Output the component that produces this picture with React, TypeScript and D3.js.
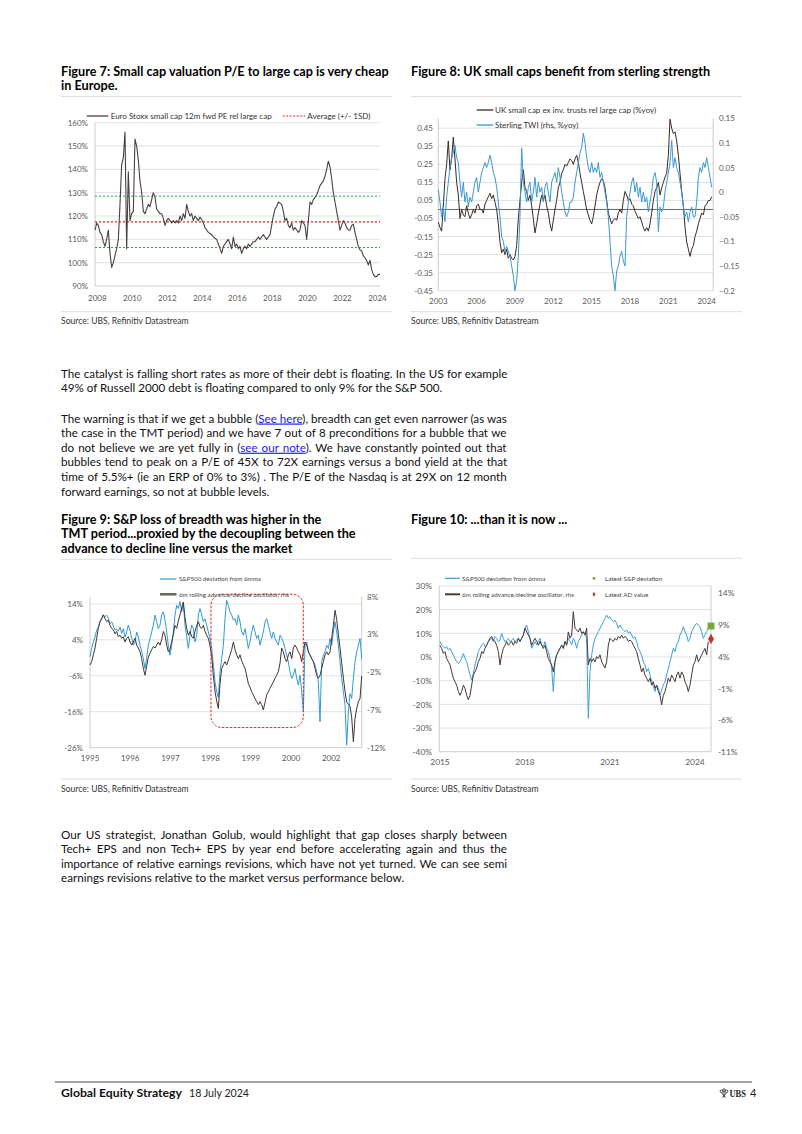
import React from 'react';
import * as d3 from 'd3';

const FONT = 'Lato, "Open Sans", "DejaVu Sans", sans-serif';

// ---------------- DATA ----------------
// Figure 7: Euro Stoxx small cap 12m fwd PE rel large cap (%), evenly spaced observations
const fig7Start = 2007.867;
const fig7Step = 0.0952;
const fig7Values = [
  114, 117, 116, 113, 112, 109, 107, 110, 114, 104,
  98, 100, 103, 106, 110, 125, 142, 145, 156, 106,
  139, 118, 121, 122, 153, 150, 144, 135, 130, 122,
  121, 123, 125, 124, 127, 130, 128, 123, 122, 121,
  121, 119, 116, 118, 119, 118, 117, 118, 117, 118,
  117, 120, 118, 121, 119, 125, 122, 120, 121, 118,
  120, 119, 118, 119.5, 118.5, 117, 115, 114, 113, 112.5,
  112, 111, 110.5, 110, 108, 106, 104, 107, 108, 109,
  110, 108, 106, 111, 107, 108, 106, 107, 104, 106,
  107, 106, 108, 107, 108, 109, 109, 110, 111, 110,
  111, 112, 111, 110, 111, 112, 116, 120, 123, 124,
  126, 125.5, 125, 122, 118, 119, 116, 115, 117, 114,
  115, 114, 113, 114, 118, 117, 116, 110, 118, 126,
  125, 127, 128, 129, 131, 133, 134, 135, 137, 140,
  143.5, 141, 136, 130, 126, 122, 118, 114, 116, 118,
  117, 115, 114, 114, 116, 116.5, 113, 110, 107, 105.5,
  105, 103, 102, 101, 99, 101, 97, 95, 94, 94,
  95, 95,
];
const fig7Average = 117.5;
const fig7BandHigh = 128.5;
const fig7BandLow = 106.5;
const fig7YTicks = [90, 100, 110, 120, 130, 140, 150, 160];
const fig7XTicks = [2008, 2010, 2012, 2014, 2016, 2018, 2020, 2022, 2024];

// Figure 8
const fig8Start = 2003.0;
const fig8Step = 0.13045;
const fig8SmallCap = [
  -0.07, -0.10, -0.12, 0.02, 0.17, 0.25, 0.38, 0.22, 0.28, 0.40,
  0.28, 0.15, 0.08, -0.05, 0.0, -0.03, -0.04, 0.02, -0.02, -0.05,
  -0.03, 0.0, -0.02, 0.02, 0.03, 0.0, 0.0, -0.02, 0.03, 0.05,
  0.07, 0.09, 0.06, 0.08, 0.04, 0.0, -0.08, -0.18, -0.24, -0.22,
  -0.25, -0.22, -0.27, -0.25, -0.27, -0.28, -0.26, -0.2, -0.05, 0.05,
  0.15, 0.22, 0.12, 0.10, 0.05, 0.08, 0.02, -0.05, -0.13, -0.08,
  -0.02, 0.03, 0.08, 0.05, 0.08, 0.02, -0.02, -0.08, -0.12, -0.06,
  0.0, 0.05, 0.12, 0.15, 0.2, 0.22, 0.25, 0.24, 0.26, 0.28,
  0.27, 0.25, 0.28, 0.30, 0.26, 0.20, 0.15, 0.10, 0.05, 0.0,
  -0.03, -0.06, -0.08, -0.04, 0.02, 0.08, 0.12, 0.15, 0.17, 0.16,
  0.12, 0.05, -0.02, -0.05, -0.08, -0.06, -0.05, -0.06, -0.02, 0.0,
  -0.02, 0.05, 0.10, 0.08, 0.05, 0.06, 0.03, 0.02, -0.01, -0.03,
  -0.05, -0.04, -0.07, -0.10, -0.12, -0.10, -0.12, -0.08, -0.02, 0.05,
  0.10, 0.12, 0.15, 0.08, 0.12, 0.15, 0.18, 0.20, 0.30, 0.50,
  0.45, 0.42, 0.43, 0.38, 0.30, 0.20, 0.10, 0.02, -0.10, -0.18,
  -0.22, -0.26, -0.22, -0.20, -0.15, -0.12, -0.08, -0.05, -0.02, -0.03,
  0.02, 0.03, 0.05, 0.05, 0.07,
];
const fig8Sterling = [
  0.005, -0.02, -0.05, -0.03, -0.06, -0.01, 0.02, 0.05, 0.07, 0.08,
  0.095, 0.07, 0.06, 0.02, -0.01, 0.02, -0.02, 0.0, -0.03, -0.01,
  -0.02, 0.0, 0.02, 0.03, 0.0, 0.02, 0.04, 0.05, 0.06, 0.05,
  0.06, 0.075, 0.06, 0.04, 0.03, 0.01, -0.02, -0.05, -0.09, -0.10,
  -0.12, -0.11, -0.12, -0.13, -0.15, -0.17, -0.20, -0.18, -0.13, -0.05,
  0.09, 0.02, 0.0, -0.02, 0.01, 0.02, -0.02, 0.0, 0.03, -0.01,
  0.02, 0.0, 0.01, -0.02, 0.01, 0.02, 0.0, -0.02, 0.02, 0.03,
  0.04, 0.02, 0.05, 0.03, 0.0, -0.02, -0.04, -0.05, -0.04, -0.02,
  -0.02, -0.01, 0.02, 0.04, 0.06, 0.08, 0.09, 0.12, 0.10, 0.07,
  0.05, 0.04, 0.06, 0.04, 0.05, 0.04, 0.06, 0.03, 0.04, 0.02,
  0.0, -0.02, -0.05, -0.10, -0.15, -0.17, -0.20, -0.16, -0.15, -0.13,
  -0.12, -0.14, -0.15, -0.05, -0.02, 0.0, 0.02, 0.03, 0.0, 0.02,
  -0.01, 0.01, -0.02, 0.0, -0.02, -0.01, -0.04, -0.02, 0.0, 0.03,
  0.04, 0.02, -0.08, -0.03, -0.04, -0.03, 0.0, 0.02, 0.04, 0.06,
  0.105, 0.05, 0.07, 0.05, 0.04, 0.02, 0.0, -0.03, -0.05, -0.04,
  -0.06, -0.04, -0.03, -0.05, -0.05, -0.02, 0.03, 0.05, 0.04, 0.06,
  0.05, 0.07, 0.05, 0.03, 0.01,
];
const fig8LeftTicks = [-0.45, -0.35, -0.25, -0.15, -0.05, 0.05, 0.15, 0.25, 0.35, 0.45];
const fig8RightTicks = [-0.2, -0.15, -0.1, -0.05, 0, 0.05, 0.1, 0.15];
const fig8XTicks = [2003, 2006, 2009, 2012, 2015, 2018, 2021, 2024];

// Figure 9
const fig9Start = 1995.0;
const fig9Step = 0.04892;
const fig9Deviation = [
  -0.7, 1.6, 3.4, 4.8, 6.7, 7.6, 9.0, 9.9, 10.9, 10.4,
  10.9, 9.9, 8.5, 9.0, 7.9, 6.7, 7.0, 6.4, 7.6, 5.8,
  7.1, 4.8, 6.2, 8.1, 6.7, 4.4, 2.5, 3.4, 6.2, 4.8,
  2.5, 0.7, -1.2, -4.0, -1.0, 2.5, 4.4, 6.2, 8.1, 10.9,
  9.0, 7.1, 8.1, 10.9, 11.8, 9.5, 6.2, 2.5, -0.3, 2.5,
  6.2, 10.9, 13.6, 12.7, 14.6, 11.8, 14.1, 8.0, 5.0, 1.6,
  5.3, 8.1, 7.1, 3.4, 5.3, 10.9, 12.7, 10.9, 9.0, 9.9,
  8.1, 6.2, 4.4, 1.6, -3.0, -7.7, -10.4, -12.0, -4.9, -1.2,
  2.5, 9.9, 15.0, 13.6, 11.8, 10.9, 9.5, 9.9, 8.1, 10.9,
  9.0, 6.2, 5.3, 7.1, 4.4, 1.6, 3.4, 6.2, 8.1, 6.2,
  4.4, 5.3, 2.5, 4.4, 6.2, 9.0, 9.9, 8.1, 6.2, 4.4,
  6.2, 4.4, 3.4, 2.5, 5.3, 4.4, 3.4, 1.6, -0.3, -2.1,
  -4.9, -6.7, -5.8, -4.0, -6.7, -8.6, -5.8, -10.4, -16.0, 2.5,
  3.4, 0.7, -0.3, -1.2, -2.1, -3.0, -4.9, -7.7, -18.8, -2.1,
  -0.3, 0.7, 2.5, 1.6, 4.4, 2.5, 6.2, 9.0, 6.2, 2.5,
  -2.1, -6.7, -10.4, -14.1, -25.3, -16.0, -11.0, -12.3, -6.7, -2.1,
  0.7, 2.5, 4.4, -1.2,
];
const fig9AdOscillator = [
  -1.05, -0.6, 0.3, 1.2, 2.5, 3.8, 4.7, 5.1, 5.6, 5.1,
  4.7, 4.9, 4.2, 3.8, 3.6, 3.1, 3.4, 2.7, 2.9, 2.5,
  2.7, 2.0, 2.5, 2.7, 2.0, 1.6, 2.0, 2.5, 1.6, 1.2,
  0.7, -0.2, -1.5, -2.4, -1.2, 0.0, 0.5, 1.0, 1.4, 1.2,
  1.6, 2.0, 1.6, 2.3, 3.4, 2.9, 1.6, 0.7, 1.0, 2.0,
  3.0, 4.2, 3.8, 4.8, 5.6, 6.5, 7.3, 5.2, 3.8, 2.9,
  3.4, 2.7, 2.5, 3.4, 4.2, 4.7, 4.0, 3.8, 4.2, 3.4,
  2.9, 2.5, 1.5, 0.2, -2.5, -4.5, -5.8, -6.8, -3.5, -1.5,
  -1.0, -0.6, -1.05, -0.4, 0.3, 1.0, 2.0, 1.0, 0.3, -0.2,
  0.3, -0.5, -1.0, -1.5, -2.5, -3.5, -4.0, -4.6, -5.0, -5.5,
  -5.9, -6.3, -5.9, -6.3, -7.0, -6.0, -5.0, -4.6, -4.1, -3.7,
  -3.3, -2.8, -2.4, -1.9, -0.8, 1.2, 0.7, -0.2, -0.6, 0.3,
  0.7, -0.2, 1.2, 1.6, 1.2, 0.7, 0.3, -0.6, 0.7, 2.0,
  1.6, 0.7, 0.3, -0.2, -0.6, -1.5, -2.4, -2.8, -2.4, -1.5,
  -0.6, 0.3, 0.7, 0.3, 0.7, 2.5, 4.2, 6.2, 5.0, 3.0,
  1.2, -0.8, -2.8, -4.5, -6.0, -6.2, -6.5, -8.0, -11.2, -8.1,
  -6.8, -5.9, -5.5, -2.5,
];
const fig9LeftTicks = [-26, -16, -6, 4, 14];
const fig9RightTicks = [-12, -7, -2, 3, 8];
const fig9XTickDates = [1995, 1996.18, 1997.36, 1998.54, 1999.72, 2000.9, 2002.08];
const fig9XTickLabels = ['1995', '1996', '1997', '1998', '1999', '2000', '2002'];
const fig9BoxDates = [1998.55, 2001.26];
const fig9BoxRange = [-20.4, 16.7];

// Figure 10
const fig10Start = 2015.0;
const fig10Step = 0.05882;
const fig10Deviation = [
  6.5, 5.1, 4.4, 3.7, 4.4, 3.0, 3.7, 2.3, 0.8, -0.6,
  -2.0, -2.7, -2.0, -0.6, 1.5, -0.6, -2.0, -4.8, -7.6, -9.7,
  -6.9, -3.4, -0.6, 2.3, 3.7, 5.1, 5.8, 4.4, 5.1, 6.5,
  7.2, 7.9, 6.5, 8.6, 7.9, 6.5, 7.2, 10.0, 7.9, 6.5,
  7.2, 7.9, 6.5, 7.2, 7.9, 6.5, 7.2, 7.9, 6.5, 7.9,
  9.3, 12.1, 13.5, 10.7, 7.9, 3.7, 5.1, 6.5, 5.1, 6.5,
  7.9, 5.1, 4.4, 6.5, 3.7, 2.3, -0.6, -4.8, -14.6, -2.0,
  0.8, 2.3, 3.7, 5.1, 3.7, 6.5, 5.1, 7.9, 6.5, 5.1,
  7.9, 6.5, 3.7, 6.5, 7.9, 9.3, 10.7, 10.0, 7.9, -25.9,
  -6.2, 0.8, 5.1, 7.9, 9.3, 10.7, 12.1, 13.5, 14.9, 16.3,
  17.7, 16.3, 17.0, 15.6, 14.9, 15.6, 14.2, 12.1, 13.5, 12.1,
  11.4, 10.7, 11.4, 10.0, 10.7, 9.3, 7.9, 8.6, 6.5, 3.7,
  2.3, 0.8, -2.0, -3.4, -6.2, -4.8, -7.6, -10.4, -12.5, -14.6,
  -11.8, -13.2, -16.1, -14.0, -11.8, -10.4, -7.6, -4.8, -2.0, 0.8,
  3.7, 2.3, 5.1, 6.5, 9.3, 10.7, 12.8, 10.7, 9.3, 6.5,
  7.9, 10.7, 12.1, 13.5, 14.2, 13.5, 12.8, 10.7, 7.9, 9.3,
  10.7, 12.1,
];
const fig10AdOscillator = [
  5.8, 5.3, 4.5, 4.8, 3.7, 3.2, 2.7, 1.6, 0.6, 0.05,
  -0.5, -1.5, -2.1, -1.5, -0.5, -1.0, -2.1, -2.8, -2.1, -0.5,
  1.1, 1.6, 2.2, 3.2, 3.7, 4.8, 4.5, 5.3, 5.8, 6.4,
  6.9, 7.2, 6.6, 6.4, 5.8, 4.8, 2.7, 4.3, 5.3, 5.8,
  6.4, 5.8, 6.1, 6.4, 5.8, 6.4, 6.1, 6.9, 6.4, 6.9,
  7.4, 8.5, 7.9, 7.4, 6.9, 5.8, 6.4, 6.9, 6.4, 5.8,
  6.4, 5.8, 5.3, 5.8, 4.8, 3.7, 3.2, 2.7, 1.6, 3.2,
  4.3, 4.8, 5.3, 5.8, 5.3, 6.4, 5.8, 7.9, 6.9, 7.4,
  11.1, 8.5, 8.2, 7.9, 8.5, 7.7, 7.9, 7.4, 8.5, 2.7,
  3.7, 3.2, 3.7, 3.2, 4.0, 3.7, 4.3, 3.2, 2.7, 2.2,
  3.2, 5.8, 6.9, 6.6, 6.4, 6.9, 6.6, 7.2, 6.9, 7.4,
  6.9, 7.2, 6.9, 6.4, 6.6, 6.4, 5.8, 5.3, 4.8, 3.7,
  2.7, 1.6, 2.2, 1.1, 0.6, 0.05, 0.6, -0.5, 0.05, -1.0,
  -0.5, -1.5, -2.1, -3.6, -2.1, -1.5, -0.5, 0.6, 0.05, 1.1,
  0.6, 0.05, 1.1, 1.6, 0.6, 1.6, 1.1, 0.05, -0.5, -1.5,
  -0.5, 1.1, 2.7, 3.2, 4.3, 3.2, 3.7, 4.3, 4.8, 5.3,
  4.3, 6.4,
];
const fig10LatestDate = 2024.565;
const fig10LatestSP = 13.1;
const fig10LatestAD = 6.8;
const fig10LeftTicks = [-40, -30, -20, -10, 0, 10, 20, 30];
const fig10RightTicks = [-11, -6, -1, 4, 9, 14];
const fig10XTicks = [2015, 2018, 2021, 2024];

// Text content
const para1 = [
  'The catalyst is falling short rates as more of their debt is floating. In the US for example',
  '49% of Russell 2000 debt is floating compared to only 9% for the S&P 500.',
];
const para2 = [
  'The warning is that if we get a bubble (See here), breadth can get even narrower (as was',
  'the case in the TMT period) and we have 7 out of 8 preconditions for a bubble that we',
  'do not believe we are yet fully in (see our note). We have constantly pointed out that',
  'bubbles tend to peak on a P/E of 45X to 72X earnings versus a bond yield at the that',
  'time of 5.5%+ (ie an ERP of 0% to 3%) . The P/E of the Nasdaq is at 29X on 12 month',
  'forward earnings, so not at bubble levels.',
];
const para2Links = ['See here', 'see our note'];
const para3 = [
  'Our US strategist, Jonathan Golub, would highlight that gap closes sharply between',
  'Tech+ EPS and non Tech+ EPS by year end before accelerating again and thus the',
  'importance of relative earnings revisions, which have not yet turned. We can see semi',
  'earnings revisions relative to the market versus performance below.',
];

// ---------------- HELPERS ----------------
let measureCtx: any = null;
function textWidth(text: string, size: number, weight: number = 400): number {
  if (!measureCtx) measureCtx = document.createElement('canvas').getContext('2d');
  measureCtx.font = `${weight} ${size}px Lato`;
  return measureCtx.measureText(text).width;
}

function seriesPath(values: number[], start: number, step: number, x: any, y: any) {
  return d3.line<number>()
    .x((_, i) => x(start + i * step))
    .y((v) => y(v))(values) || '';
}

const GRID = '#d9d9d9';
const AXIS = '#bfbfbf';
const TICK = '#595959';
const SEP = '#dcdcdc';

function Title({ x, y, lines, fs }: any) {
  return (
    <g>
      {lines.map((l: string, i: number) => (
        <text key={i} x={x} y={y + i * 14.4} fontSize={fs} fontWeight={700} fill="#000" fontFamily={FONT}>{l}</text>
      ))}
    </g>
  );
}

function Source({ x, y }: any) {
  return (
    <text x={x} y={y} fontSize={8.6} fill="#333" fontFamily={FONT}>Source: UBS, Refinitiv Datastream</text>
  );
}

// ---------------- FIGURES ----------------
function Fig7({ fs }: any) {
  const x = d3.scaleLinear().domain([fig7Start, fig7Start + (fig7Values.length - 1) * fig7Step]).range([95, 380]);
  const y = d3.scaleLinear().domain([90, 160]).range([286, 122.7]);
  const [x0, x1] = x.range();
  return (
    <g fontFamily={FONT}>
      <Title x={61} y={75.5} fs={fs} lines={['Figure 7: Small cap valuation P/E to large cap is very cheap', 'in Europe.']} />
      <line x1={61} x2={392} y1={96.7} y2={96.7} stroke={SEP} />
      {fig7YTicks.map((t) => (
        <g key={t}>
          <line x1={x0} x2={x1} y1={y(t)} y2={y(t)} stroke={t === 90 ? AXIS : GRID} strokeWidth={0.8} />
          <text x={88} y={y(t) + 3} textAnchor="end" fontSize={8} fill={TICK}>{t}%</text>
        </g>
      ))}
      <line x1={x0} x2={x0} y1={y(160)} y2={y(90)} stroke={AXIS} strokeWidth={0.8} />
      {fig7XTicks.map((t) => (
        <text key={t} x={x(t)} y={300.5} textAnchor="middle" fontSize={8} fill={TICK}>{t}</text>
      ))}
      <line x1={x0} x2={x1} y1={y(fig7BandHigh)} y2={y(fig7BandHigh)} stroke="#1fae45" strokeDasharray="2,2" strokeWidth={1} />
      <line x1={x0} x2={x1} y1={y(fig7BandLow)} y2={y(fig7BandLow)} stroke="#1fae45" strokeDasharray="2,2" strokeWidth={1} />
      <line x1={x0} x2={x1} y1={y(fig7Average)} y2={y(fig7Average)} stroke="#e0261b" strokeDasharray="2,2" strokeWidth={1.1} />
      <path d={seriesPath(fig7Values, fig7Start, fig7Step, x, y)} fill="none" stroke="#4a403d" strokeWidth={1.1} strokeLinejoin="round" />
      {/* legend */}
      <line x1={86.7} x2={108.3} y1={116} y2={116} stroke="#4a403d" strokeWidth={1.3} />
      <text x={110.7} y={118.8} fontSize={8} fill="#333">Euro Stoxx small cap 12m fwd PE rel large cap</text>
      <line x1={282.7} x2={305} y1={116} y2={116} stroke="#e0261b" strokeDasharray="2,1.5" strokeWidth={1.1} />
      <text x={307.3} y={118.8} fontSize={8} fill="#333">Average (+/- 1SD)</text>
      <line x1={61} x2={392} y1={311.7} y2={311.7} stroke={SEP} />
      <Source x={61} y={323.5} />
    </g>
  );
}

function Fig8({ fs }: any) {
  const x = d3.scaleLinear().domain([fig8Start, fig8Start + (fig8SmallCap.length - 1) * fig8Step]).range([438.3, 711.7]);
  const yL = d3.scaleLinear().domain([-0.45, 0.505]).range([290.7, 118.3]);
  const yR = d3.scaleLinear().domain([-0.2, 0.15]).range([290.7, 118.3]);
  const [x0, x1] = x.range();
  const fmtR = (v: number) => (Math.abs(v) < 1e-9 ? '0' : d3.format('')(+v.toFixed(2)));
  return (
    <g fontFamily={FONT}>
      <Title x={411} y={75.5} fs={fs} lines={['Figure 8: UK small caps benefit from sterling strength']} />
      <line x1={411} x2={742} y1={96.7} y2={96.7} stroke={SEP} />
      {fig8LeftTicks.map((t) => (
        <g key={t}>
          <line x1={x0} x2={x1 + 1.5} y1={yL(t)} y2={yL(t)} stroke={GRID} strokeWidth={0.8} />
          <text x={433} y={yL(t) + 3} textAnchor="end" fontSize={8} fill={TICK}>{t.toFixed(2)}</text>
        </g>
      ))}
      {fig8RightTicks.map((t) => (
        <text key={t} x={719} y={yR(t) + 3} fontSize={8} fill={TICK}>{fmtR(t)}</text>
      ))}
      <line x1={x0} x2={x0} y1={118.3} y2={290.7} stroke={AXIS} strokeWidth={0.8} />
      <line x1={x1 + 1.5} x2={x1 + 1.5} y1={118.3} y2={290.7} stroke={AXIS} strokeWidth={0.8} />
      {fig8XTicks.map((t) => (
        <text key={t} x={x(t)} y={304} textAnchor="middle" fontSize={8} fill={TICK}>{t}</text>
      ))}
      <line x1={x0} x2={x1 + 1.5} y1={yL(0)} y2={yL(0)} stroke="#555" strokeWidth={0.9} />
      <path d={seriesPath(fig8SmallCap, fig8Start, fig8Step, x, yL)} fill="none" stroke="#3b2a23" strokeWidth={1} strokeLinejoin="round" />
      <path d={seriesPath(fig8Sterling, fig8Start, fig8Step, x, yR)} fill="none" stroke="#3a98d6" strokeWidth={1} strokeLinejoin="round" />
      {/* legend */}
      <line x1={476.7} x2={493.3} y1={110} y2={110} stroke="#3b2a23" strokeWidth={1.3} />
      <text x={495} y={112.8} fontSize={8} fill="#333">UK small cap ex inv. trusts rel large cap (%yoy)</text>
      <line x1={476.7} x2={493.3} y1={125} y2={125} stroke="#3a98d6" strokeWidth={1.3} />
      <text x={495} y={127.8} fontSize={8} fill="#333">Sterling TWI (rhs, %yoy)</text>
      <line x1={411} x2={742} y1={311.7} y2={311.7} stroke={SEP} />
      <Source x={411} y={323.5} />
    </g>
  );
}

function Fig9({ fs }: any) {
  const x = d3.scaleLinear().domain([fig9Start, fig9Start + (fig9Deviation.length - 1) * fig9Step]).range([90, 361.7]);
  const yL = d3.scaleLinear().domain([-26, 16]).range([747.7, 596.7]);
  const yR = d3.scaleLinear().domain([-12, 8]).range([747.7, 596.7]);
  const [x0, x1] = x.range();
  return (
    <g fontFamily={FONT}>
      <Title x={61} y={524} fs={fs} lines={['Figure 9: S&P loss of breadth was higher in the', 'TMT period...proxied by the decoupling between the', 'advance to decline line versus the market']} />
      <line x1={61} x2={392} y1={559.3} y2={559.3} stroke={SEP} />
      {fig9LeftTicks.map((t) => (
        <g key={t}>
          <line x1={x0} x2={x1} y1={yL(t)} y2={yL(t)} stroke={t === -26 ? AXIS : GRID} strokeWidth={0.8} />
          <text x={83} y={yL(t) + 3} textAnchor="end" fontSize={8} fill={TICK}>{t}%</text>
        </g>
      ))}
      {fig9RightTicks.map((t) => (
        <text key={t} x={367} y={yR(t) + 3} fontSize={8} fill={TICK}>{t}%</text>
      ))}
      <line x1={x0} x2={x0} y1={596.7} y2={747.7} stroke={AXIS} strokeWidth={0.8} />
      <line x1={x1} x2={x1} y1={596.7} y2={747.7} stroke={AXIS} strokeWidth={0.8} />
      {fig9XTickDates.map((t, i) => (
        <text key={t} x={x(t)} y={761.3} textAnchor="middle" fontSize={8} fill={TICK}>{fig9XTickLabels[i]}</text>
      ))}
      <path d={seriesPath(fig9Deviation, fig9Start, fig9Step, x, yL)} fill="none" stroke="#2f9ad8" strokeWidth={1} strokeLinejoin="round" />
      <path d={seriesPath(fig9AdOscillator, fig9Start, fig9Step, x, yR)} fill="none" stroke="#45342d" strokeWidth={1} strokeLinejoin="round" />
      <rect x={x(fig9BoxDates[0])} y={yL(fig9BoxRange[1])} width={x(fig9BoxDates[1]) - x(fig9BoxDates[0])} height={yL(fig9BoxRange[0]) - yL(fig9BoxRange[1])} rx={11} ry={11} fill="none" stroke="#e0262b" strokeWidth={1} strokeDasharray="2.5,1.5" />
      {/* legend */}
      <line x1={160} x2={176.5} y1={579} y2={579} stroke="#2f9ad8" strokeWidth={1.2} />
      <text x={179} y={581.2} fontSize={6.2} fill="#444">S&amp;P500 deviation from 6mma</text>
      <line x1={160} x2={176.5} y1={594.3} y2={594.3} stroke="#6b5d57" strokeWidth={2.4} />
      <text x={179} y={596.5} fontSize={6.2} fill="#444">6m rolling advance/decline oscillator, rhs</text>
      <line x1={61} x2={392} y1={779} y2={779} stroke={SEP} />
      <Source x={61} y={792} />
    </g>
  );
}

function Fig10({ fs }: any) {
  const x = d3.scaleLinear().domain([2014.975, fig10LatestDate]).range([439.3, 711]);
  const yL = d3.scaleLinear().domain([-40, 30]).range([751.7, 586]);
  const yR = d3.scaleLinear().domain([-11, 15.15]).range([751.7, 586]);
  const [x0, x1] = x.range();
  const sq = d3.symbol().type(d3.symbolSquare);
  const dm = d3.symbol().type(d3.symbolDiamond);
  return (
    <g fontFamily={FONT}>
      <Title x={411} y={524} fs={fs} lines={['Figure 10: ...than it is now ...']} />
      <line x1={411} x2={742} y1={558.3} y2={558.3} stroke={SEP} />
      {fig10LeftTicks.map((t) => (
        <g key={t}>
          <line x1={x0} x2={x1} y1={yL(t)} y2={yL(t)} stroke={t === -40 ? AXIS : GRID} strokeWidth={0.8} />
          <text x={432} y={yL(t) + 3.2} textAnchor="end" fontSize={8.4} fill={TICK}>{t}%</text>
        </g>
      ))}
      {fig10RightTicks.map((t) => (
        <text key={t} x={718} y={yR(t) + 3.2} fontSize={8.4} fill={TICK}>{t}%</text>
      ))}
      <line x1={x0} x2={x0} y1={586} y2={751.7} stroke={AXIS} strokeWidth={0.8} />
      <line x1={x1} x2={x1} y1={586} y2={751.7} stroke={AXIS} strokeWidth={0.8} />
      {fig10XTicks.map((t) => (
        <text key={t} x={x(t)} y={765} textAnchor="middle" fontSize={8.4} fill={TICK}>{t}</text>
      ))}
      <path d={seriesPath(fig10Deviation, fig10Start, fig10Step, x, yL)} fill="none" stroke="#3d9fdc" strokeWidth={1} strokeLinejoin="round" />
      <path d={seriesPath(fig10AdOscillator, fig10Start, fig10Step, x, yR)} fill="none" stroke="#4a3832" strokeWidth={1} strokeLinejoin="round" />
      <path d={sq.size(48)() || ''} transform={`translate(${x(fig10LatestDate)},${yL(fig10LatestSP)})`} fill="#77a63a" />
      <path d={dm.size(30)() || ''} transform={`translate(${x(fig10LatestDate)},${yR(fig10LatestAD)})`} fill="#c0342b" />
      {/* legend */}
      <line x1={445} x2={460} y1={578.3} y2={578.3} stroke="#3d9fdc" strokeWidth={1.2} />
      <text x={462} y={580.5} fontSize={6.3} fill="#444">S&amp;P500 deviation from 6mma</text>
      <path d={sq.size(7)() || ''} transform="translate(594,578.3)" fill="#77a63a" />
      <text x={605} y={580.5} fontSize={6.3} fill="#444">Latest S&amp;P deviation</text>
      <line x1={445} x2={460} y1={594.3} y2={594.3} stroke="#4a3832" strokeWidth={2} />
      <text x={462} y={596.5} fontSize={6.3} fill="#444">6m rolling advance/decline oscillator, rhs</text>
      <path d={dm.size(7)() || ''} transform="translate(594,594.3)" fill="#c0342b" />
      <text x={605} y={596.5} fontSize={6.3} fill="#444">Latest AD value</text>
      <line x1={411} x2={742} y1={779} y2={779} stroke={SEP} />
      <Source x={411} y={792} />
    </g>
  );
}

// ---------------- BODY TEXT ----------------
const BODY_X = 61;
const BODY_W = 447;
const LH = 14.6;

function Paragraph({ lines, y0, fs, links = [] }: any) {
  return (
    <g>
      {lines.map((line: string, i: number) => {
        const last = i === lines.length - 1;
        const nat = textWidth(line, fs);
        const spaces = (line.match(/ /g) || []).length;
        const ws = last || spaces === 0 ? 0 : (BODY_W - nat) / spaces;
        let segs: { t: string; link: boolean }[] = [{ t: line, link: false }];
        links.forEach((lk: string) => {
          const out: { t: string; link: boolean }[] = [];
          segs.forEach((s) => {
            if (s.link || s.t.indexOf(lk) < 0) { out.push(s); return; }
            const idx = s.t.indexOf(lk);
            out.push({ t: s.t.slice(0, idx), link: false });
            out.push({ t: lk, link: true });
            out.push({ t: s.t.slice(idx + lk.length), link: false });
          });
          segs = out;
        });
        return (
          <text key={i} x={BODY_X} y={y0 + i * LH} fontSize={fs} fill="#111" fontFamily={FONT} wordSpacing={ws} style={{ whiteSpace: 'pre' }}>
            {segs.map((s, j) => s.link
              ? <tspan key={j} fill="#1a1aee" style={{ textDecoration: 'underline' }}>{s.t}</tspan>
              : <tspan key={j}>{s.t}</tspan>)}
          </text>
        );
      })}
    </g>
  );
}

function Footer() {
  return (
    <g fontFamily={FONT}>
      <line x1={55} x2={752} y1={1082} y2={1082} stroke="#444" strokeWidth={1} />
      <text x={61} y={1097} fontSize={11} fontWeight={700} fill="#111" textLength={121} lengthAdjust="spacingAndGlyphs">Global Equity Strategy</text>
      <text x={189} y={1097} fontSize={11} fill="#222" textLength={60} lengthAdjust="spacingAndGlyphs">18 July 2024</text>
      <g transform="translate(724,1093.5)" stroke="#333" strokeWidth={0.9} fill="none">
        <circle cx={-2.6} cy={-2.2} r={1.3} />
        <circle cx={2.6} cy={-2.2} r={1.3} />
        <circle cx={0} cy={-3.4} r={1.3} />
        <line x1={-2.6} y1={-1} x2={1.5} y2={4} />
        <line x1={2.6} y1={-1} x2={-1.5} y2={4} />
        <line x1={0} y1={-2} x2={0} y2={4} />
      </g>
      <text x={729.5} y={1097} fontSize={10.5} fontWeight={700} fill="#222" fontFamily='"Liberation Serif", "DejaVu Serif", serif' textLength={16.5} lengthAdjust="spacingAndGlyphs">UBS</text>
      <text x={750} y={1097} fontSize={11} fill="#222">4</text>
    </g>
  );
}

export default function App() {
  const justified = [para1[0], ...para2.slice(0, -1), ...para3.slice(0, -1)];
  const bodyFs = 10 * d3.min(justified, (l) => BODY_W / textWidth(l, 10))!;
  const titleFs = 10 * 329 / textWidth('Figure 7: Small cap valuation P/E to large cap is very cheap', 10, 700);
  return (
    <svg width={802} height={1134} viewBox="0 0 802 1134" style={{ position: 'absolute', left: 0, top: 0, display: 'block', background: '#fff' }}>
      <rect x={0} y={0} width={802} height={1134} fill="#fff" />
      <Fig7 fs={titleFs} />
      <Fig8 fs={titleFs} />
      <Paragraph lines={para1} y0={377.5} fs={bodyFs} />
      <Paragraph lines={para2} y0={422.5} fs={bodyFs} links={para2Links} />
      <Fig9 fs={titleFs} />
      <Fig10 fs={titleFs} />
      <Paragraph lines={para3} y0={838.5} fs={bodyFs} />
      <Footer />
    </svg>
  );
}
